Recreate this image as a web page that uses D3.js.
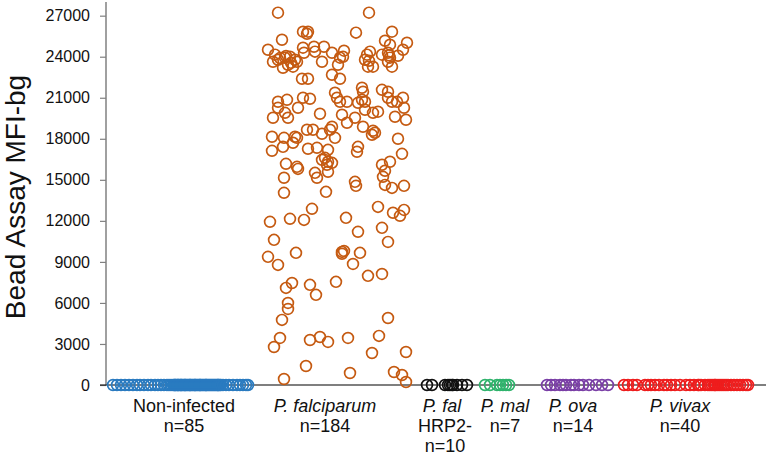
<!DOCTYPE html>
<html>
<head>
<meta charset="utf-8">
<script src="https://cdn.jsdelivr.net/npm/d3@7"></script>
<style>
  body { margin: 0; background: #fff; }
  svg { font-family: Arial, "Liberation Sans", sans-serif; }
</style>
</head>
<body>
<div id="chart"></div>
<script>
// groups along the x axis
const groups = ["Non-infected", "P. falciparum", "P. fal HRP2-", "P. mal", "P. ova", "P. vivax"];
const groupCounts = [85, 184, 10, 7, 14, 40];
const groupPos = [0.74, 2.32, 3.39, 3.91, 4.71, 5.80];
const groupColors = ["#2a7bc0", "#c55a11", "#111111", "#2fb36c", "#7a3fa6", "#ee1d1d"];
const groupLabels = [
  ["Non-infected"], ["P. falciparum"], ["P. fal", "HRP2-"], ["P. mal"], ["P. ova"], ["P. vivax"]
];
const yTicks = [0, 3000, 6000, 9000, 12000, 15000, 18000, 21000, 24000, 27000];

// points as [jitter (hundredths of a group unit), MFI-bg]
const nonInfected = [
  [-67,0],[-63,0],[-59,0],[-55,0],[-51,0],[-47,0],[-43,0],[-40,0],[-36,0],[-32,0],
  [-29,0],[-25,0],[-22,0],[-19,0],[-16,0],[-13,0],[-11,0],[-9,0],[-7,0],
  [-6,0],[-5,0],[-5,0],[-4,0],[-3,0],[-2,0],[-2,0],[-1,0],[0,0],[1,0],
  [1,0],[2,0],[3,0],[4,0],[5,0],[5,0],[6,0],[7,0],[8,0],[9,0],
  [10,0],[10,0],[11,0],[12,0],[13,0],[14,0],[15,0],[15,0],[16,0],[17,0],
  [18,0],[19,0],[20,0],[20,0],[21,0],[22,0],[23,0],[24,0],[25,0],[26,0],
  [26,0],[27,0],[28,0],[29,0],[30,0],[31,0],[32,0],[33,0],[34,0],[35,0],
  [36,0],[37,0],[38,0],[38,0],[39,0],[40,0],[41,0],
  [43,0],[46,0],[49,0],[53,0],[57,0],[60,0],[63,0],[66,0],[68,0]
];

const falciparum = [
  [-60,27220],[31,27220],[18,25760],[-35,25830],[-31,25680],[-30,25830],[-56,25240],[54,25830],
  [47,25170],[52,24880],[69,25020],[-70,24510],[-35,24660],[-24,24730],[-14,24730],[6,24440],
  [-63,24150],[-60,23780],[-65,23630],[-53,23930],[-48,24000],[-43,23780],[-50,23410],[-45,23270],
  [-55,23190],[-41,23630],[-58,23900],[-47,23550],[-52,24050],
  [-34,24290],[-23,24370],[-6,24290],[-16,23630],[2,23930],[5,24000],[0,23410],
  [29,24150],[32,24370],[27,23780],[35,23270],[30,23270],[31,23700],[44,24150],
  [50,24290],[52,23930],[50,23630],[54,23270],[51,24100],[60,24070],[65,24510],
  [-36,22390],[-30,22390],[-6,22680],[2,22390],[24,21730],[25,21440],[-3,21370],[44,21580],[50,21440],
  [-60,20710],[-51,20850],[-60,20270],[-35,21000],[-28,20930],[-1,21000],[2,20710],[9,20710],
  [24,20850],[27,20710],[20,20630],[50,21000],[54,20710],[59,20710],[65,21000],[-40,20270],
  [-53,19900],[-50,19540],[-65,19540],[-18,19830],[4,19760],[9,19170],[17,19540],[27,20120],
  [35,19900],[40,19980],[57,19610],[68,19390],[66,20270],[25,18880],[-6,18880],[-8,18660],
  [-31,18660],[-25,18660],[-16,18370],[-3,18070],[35,18590],[34,18290],[37,18440],[-66,18150],
  [-54,18070],[-43,18150],[-45,17710],[-41,18070],[-55,17410],[-66,17120],[-30,17270],[-21,17340],
  [-10,17190],[20,17410],[19,17050],[60,18000],[64,16900],
  [-16,16460],[-13,16610],[-10,16320],[-11,16100],[-6,16240],[-52,16170],[-41,15950],[-40,15800],
  [-23,15510],[-21,15150],[-10,15590],[-54,15150],[44,16100],[52,16320],[47,15660],[45,15220],
  [17,14850],[18,14560],[47,14630],[54,14410],[66,14560],[-54,14050],[-12,14120],
  [-26,12880],[40,13020],[55,12590],[62,12370],[66,12800],[-68,11930],[-48,12150],[-34,12070],
  [8,12220],[20,11200],[44,11490],[50,10460],[-64,10610],[-70,9370],[-60,8780],[-42,9660],
  [4,9730],[6,9800],[4,9590],[22,9660],[15,8850],[30,7980],[44,8120],[-46,7460],
  [-52,7100],[-28,7320],[-2,7540],[-22,6590],
  [-50,6000],[-50,5560],[-56,4760],[50,4900],[-58,3440],[-64,2780],[-28,3290],[-18,3510],
  [-10,3150],[10,3440],[41,3590],[34,2340],[68,2410],[-32,1390],[-54,440],[12,880],
  [56,950],[64,730],[68,220]
];

const falHrp2 = [[-18,0],[-13,0],[0,0],[3,0],[5,0],[7,0],[8,0],[12,0],[17,0],[22,0]];
const malariae = [[-12,0],[-7,0],[0,0],[3,0],[6,0],[9,0],[12,0]];
const ovale = [
  [-30,0],[-26,0],[-22,0],[-17,0],[-14,0],[-11,0],[-6,0],[-3,0],[2,0],[6,0],[12,0],[19,0],[25,0],[31,0]
];
const vivax = [
  [-62,0],[-58,0],[-53,0],[-49,0],[-41,0],[-38,0],[-35,0],[-31,0],[-27,0],[-22,0],
  [-19,0],[-15,0],[-11,0],[-6,0],[0,0],[4,0],[8,0],[12,0],[13,0],[15,0],
  [19,0],[22,0],[24,0],[26,0],[28,0],[29,0],[30,0],[32,0],[34,0],[36,0],
  [38,0],[40,0],[42,0],[45,0],[48,0],[51,0],[54,0],[57,0],[60,0],[62,0]
];

const groupPoints = [nonInfected, falciparum, falHrp2, malariae, ovale, vivax];

const width = 767, height = 457;

const svg = d3.select("#chart").append("svg")
  .attr("width", width)
  .attr("height", height);

const x = d3.scaleLinear().domain([0, 6.6]).range([106, 766]);
const y = d3.scaleLinear().domain([0, 28000]).range([385, 2]);

// y axis (grey)
const yAxis = svg.append("g")
  .attr("transform", "translate(106,0)")
  .call(d3.axisLeft(y).tickValues(yTicks).tickSize(6).tickPadding(10).tickFormat(d => d));
yAxis.select(".domain").attr("stroke", "#808080").attr("stroke-width", 1.5)
  .attr("d", `M0,${y(0)}V${y(28000)}`);
yAxis.selectAll(".tick line").attr("stroke", "#808080").attr("stroke-width", 1.2);
yAxis.selectAll(".tick text")
  .attr("fill", "#111")
  .style("font-size", "16px")
  .style("font-family", "Arial, 'Liberation Sans', sans-serif");

// x axis baseline (black)
svg.append("line")
  .attr("x1", 100).attr("x2", x.range()[1])
  .attr("y1", y(0)).attr("y2", y(0))
  .attr("stroke", "#000").attr("stroke-width", 1.2);

// points
groupPoints.forEach((pts, g) => {
  svg.append("g")
    .selectAll("circle")
    .data(pts)
    .join("circle")
    .attr("cx", d => x(groupPos[g] + d[0] / 100))
    .attr("cy", d => y(d[1]))
    .attr("r", 5.4)
    .attr("fill", "none")
    .attr("stroke", groupColors[g])
    .attr("stroke-width", 1.7);
});

// category labels
const labelDx = [4, -13, 0, 8, -4, -6];
groups.forEach((name, g) => {
  const lines = groupLabels[g].concat(["n=" + groupCounts[g]]);
  const t = svg.append("text")
    .attr("text-anchor", "middle")
    .style("font-size", "18px")
    .attr("fill", "#111");
  lines.forEach((line, i) => {
    t.append("tspan")
      .attr("x", x(groupPos[g]) + labelDx[g] + (g === 2 && i === 0 ? -3 : 0))
      .attr("y", 412 + i * 20)
      .style("font-style", i === 0 && g > 0 ? "italic" : "normal")
      .text(line);
  });
});

// y title
svg.append("text")
  .attr("transform", "translate(25,197) rotate(-90)")
  .attr("text-anchor", "middle")
  .style("font-size", "28px")
  .attr("fill", "#111")
  .text("Bead Assay MFI-bg");
</script>
</body>
</html>
